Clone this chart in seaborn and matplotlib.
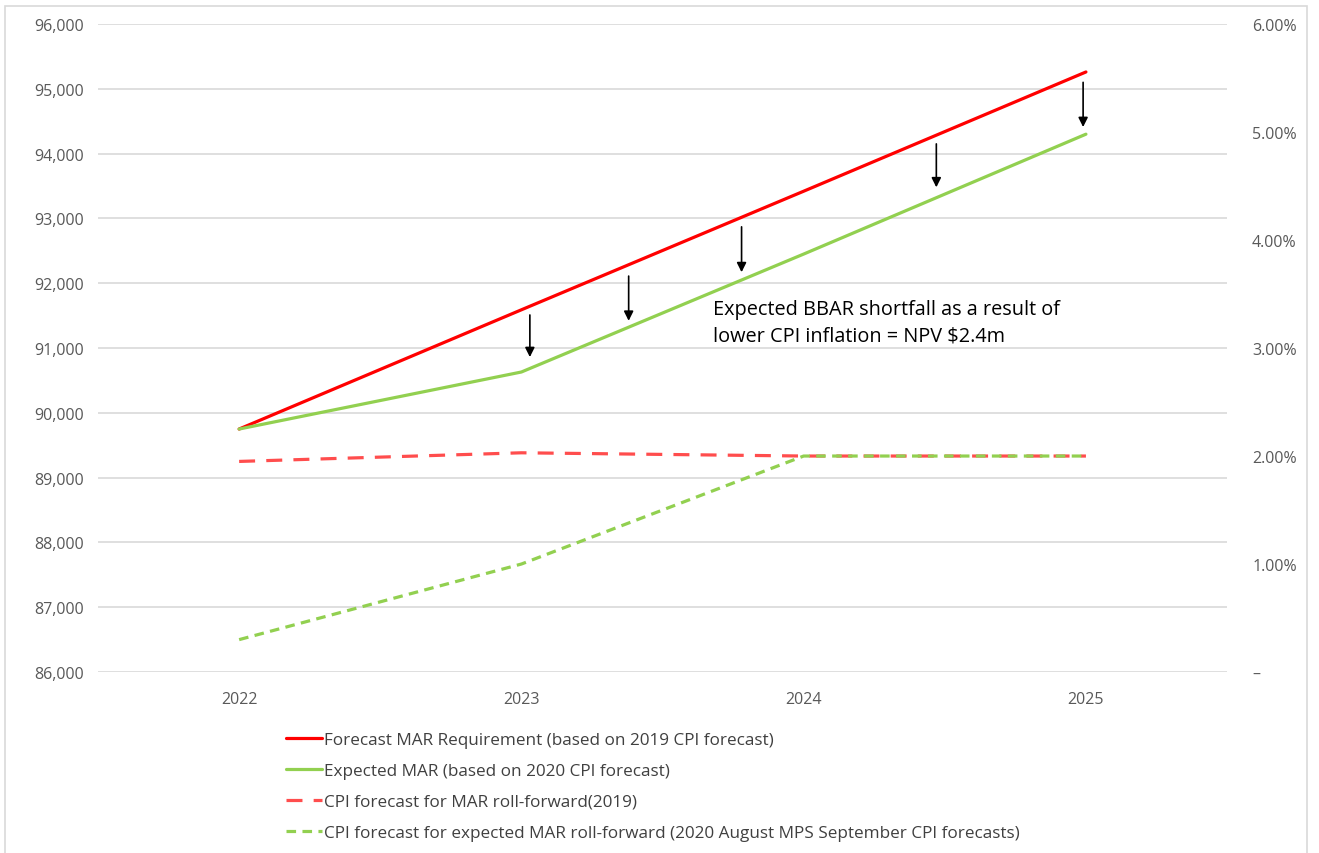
import matplotlib
matplotlib.use("Agg")
import matplotlib.pyplot as plt
import matplotlib.ticker as mticker
from matplotlib.patches import Rectangle
import seaborn as sns
import pandas as pd

sns.set_theme(style="white")
plt.rcParams['font.family'] = ['Open Sans', 'DejaVu Sans']

# data
years = ["2022", "2023", "2024", "2025"]
mar_forecast = [89750, 91590, 93420, 95260]
mar_expected = [89750, 90630, 92450, 94300]
cpi_2019 = [1.95, 2.03, 2.00, 2.00]
cpi_2020 = [0.30, 1.00, 2.00, 2.00]

labels = [
    "Forecast MAR Requirement (based on 2019 CPI forecast)",
    "Expected MAR (based on 2020 CPI forecast)",
    "CPI forecast for MAR roll-forward(2019)",
    "CPI forecast for expected MAR roll-forward (2020 August MPS September CPI forecasts)",
]

# arrows showing the shortfall: x position (category units), start and end value
arrow_x = [1.03, 1.38, 1.78, 2.47, 2.99]
arrow_top = [91510, 92110, 92870, 94150, 95100]
arrow_bottom = [90860, 91420, 92170, 93480, 94410]

note = "Expected BBAR shortfall as a result of\nlower CPI inflation = NPV $2.4m"

red = "#FF0000"
green = "#92D050"
red_dash = "#FF4D4D"
tick_col = "#595959"
grid_col = "#D9D9D9"

idx = list(range(len(years)))
mar_df = pd.DataFrame({"x": idx * 2,
                       "value": mar_forecast + mar_expected,
                       "series": [labels[0]] * 4 + [labels[1]] * 4})
cpi_df = pd.DataFrame({"x": idx * 2,
                       "value": cpi_2019 + cpi_2020,
                       "series": [labels[2]] * 4 + [labels[3]] * 4})

fig = plt.figure(figsize=(13.19, 8.54), dpi=100)
ax = fig.add_axes([0.0743, 0.2119, 0.8560, 0.7588])
ax2 = ax.twinx()

sns.lineplot(data=mar_df, x="x", y="value", hue="series", ax=ax,
             palette=[red, green], linewidth=2.3, legend=False)
sns.lineplot(data=cpi_df, x="x", y="value", hue="series", ax=ax2,
             palette=[red_dash, green], linewidth=2.3, legend=False)
ax2.lines[0].set_dashes([5, 3.5])
ax2.lines[1].set_dashes([3, 2])

ax.set_xlim(-0.5, 3.5)
ax.set_ylim(86000, 96000)
ax2.set_ylim(0, 6)
ax.set_xticks(idx)
ax.set_xticklabels(years)
ax.yaxis.set_major_locator(mticker.MultipleLocator(1000))
ax.yaxis.set_major_formatter(mticker.FuncFormatter(lambda v, p: f"{v:,.0f}"))
ax2.yaxis.set_major_locator(mticker.MultipleLocator(1))
ax2.yaxis.set_major_formatter(
    mticker.FuncFormatter(lambda v, p: "–" if abs(v) < 1e-9 else f"{v:.2f}%"))

for a in (ax, ax2):
    a.set_xlabel("")
    a.set_ylabel("")
    for s in a.spines.values():
        s.set_visible(False)
    a.tick_params(axis="both", length=0, labelsize=11.5, colors=tick_col)
ax.tick_params(axis="y", pad=10)
ax.tick_params(axis="x", pad=14)
ax2.tick_params(axis="y", pad=18)
ax.yaxis.grid(True, color=grid_col, linewidth=1.2)
ax2.grid(False)

for xa, y0, y1 in zip(arrow_x, arrow_top, arrow_bottom):
    ax.annotate("", xy=(xa, y1), xytext=(xa, y0),
                arrowprops=dict(arrowstyle="-|>", color="black", lw=1.2,
                                mutation_scale=14, shrinkA=0, shrinkB=0))

ax.text(1.68, 91400, note, fontsize=14.3, color="black", va="center",
        ha="left", linespacing=1.4)

handles = [plt.Line2D([], [], color=red, lw=2.3),
           plt.Line2D([], [], color=green, lw=2.3),
           plt.Line2D([], [], color=red_dash, lw=2.3, dashes=[5, 3.5]),
           plt.Line2D([], [], color=green, lw=2.3, dashes=[3, 2])]
leg = fig.legend(handles, labels, loc="upper left",
                 bbox_to_anchor=(0.2115, 1 - 726 / 854), frameon=False,
                 fontsize=12.3, handlelength=2.1, handletextpad=0.15,
                 labelspacing=0.88, borderaxespad=0)
for t in leg.get_texts():
    t.set_color("#404040")

fig.patches.append(Rectangle((0.004, -0.01), 0.987, 1.002, transform=fig.transFigure,
                             fill=False, edgecolor="#D9D9D9", linewidth=1.2))

fig.savefig("out.png", dpi=100)
